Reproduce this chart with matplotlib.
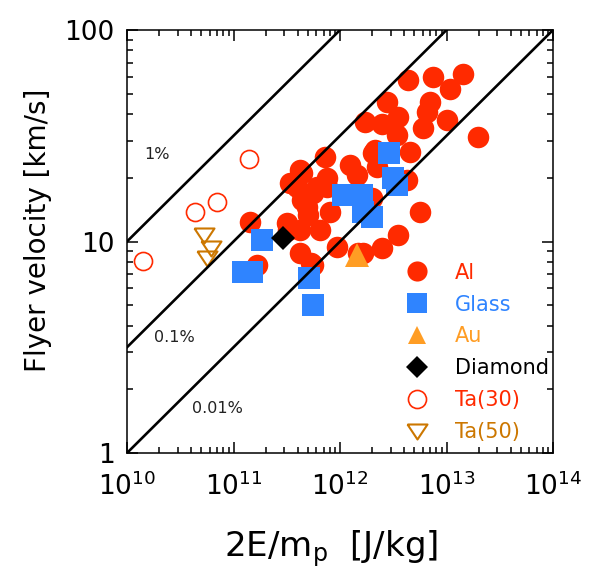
import numpy as np
import matplotlib
matplotlib.use("Agg")
import matplotlib.pyplot as plt
from matplotlib.ticker import LogLocator, FixedLocator, FixedFormatter, NullFormatter

plt.rcParams['font.family'] = ['DejaVu Sans']
plt.rcParams['mathtext.fontset'] = 'dejavusans'

# ---- data ----
al_x = [4.35e12, 7.5e12, 1.43e13, 1.08e13, 2.76e12, 7.0e12, 6.56e12, 3.5e12, 1.01e13,
        1.72e12, 2.5e12, 6.0e12, 3.43e12, 1.98e13, 2.13e12, 4.54e12, 7.2e11, 1.24e12,
        4.21e11, 2.23e12, 7.5e11, 2.04e12, 1.45e12, 4.39e11, 3.94e11, 5.6e11, 7.5e11,
        4.9e11, 8.1e11, 3.18e11, 4.21e11, 6.5e11, 1.43e11, 9.4e11, 4.21e11, 1.66e11,
        5.6e11, 1.64e12, 4.25e12, 1.79e12, 5.64e12, 3.5e12, 2.48e12, 1.48e12, 5.4e11,
        4.4e11, 6.1e11, 5.0e11, 3.25e11, 2.0e12, 4.5e11, 3.39e11]
al_v = [58, 60, 62, 52.6, 45.7, 45.7, 40.9, 38.8, 37.5,
        36.7, 36.0, 34.4, 31.9, 31.2, 27.1, 26.5, 25.1, 23.0,
        21.8, 22.5, 20.0, 26.2, 20.6, 21.1, 18.1, 17.0, 18.1,
        14.6, 13.8, 12.2, 11.3, 11.3, 12.4, 9.42, 8.83, 7.74,
        7.74, 8.83, 19.5, 15.7, 13.8, 10.7, 9.31, 8.83, 7.9,
        15.7, 18.1, 13.3, 11.3, 16.0, 17.0, 18.9]

glass_x = [2.88e12, 3.15e12, 3.43e12, 1.07e12, 1.61e12, 1.64e12, 2.0e12, 1.85e11,
           1.23e11, 1.49e11, 5.1e11, 5.6e11]
glass_v = [26.2, 20.0, 18.5, 16.6, 16.6, 13.8, 13.1, 10.2,
           7.18, 7.18, 6.72, 5.01]

au_x = [1.45e12]
au_v = [8.63]

diamond_x = [2.92e11]
diamond_v = [10.4]

ta30_x = [1.41e10, 4.35e10, 7.0e10, 1.4e11]
ta30_v = [8.09, 13.8, 15.4, 24.5]

ta50_x = [5.3e10, 6.1e10, 5.6e10]
ta50_v = [10.7, 9.31, 8.36]

efficiencies = [0.01, 0.001, 0.0001]
eff_labels = ["1%", "0.1%", "0.01%"]
eff_label_x = [1.9e10, 2.8e10, 7.0e10]
eff_label_y = [25.9, 3.5, 1.63]

x_ticks = [1e10, 1e11, 1e12, 1e13, 1e14]
x_ticklabels = [r"$10^{10}$", r"$10^{11}$", r"$10^{12}$", r"$10^{13}$", r"$10^{14}$"]
y_ticks = [1, 10, 100]
y_ticklabels = ["1", "10", "100"]

c_al = '#FF2A00'
c_glass = '#2F84FF'
c_au = '#FF9D24'
c_ta50 = '#CC7700'

# ---- figure ----
fig = plt.figure(figsize=(5.9, 5.82), dpi=100)
ax = fig.add_axes([127/590, 1-453/582, 426/590, 423/582])
ax.set_xscale('log')
ax.set_yscale('log')
ax.set_xlim(1e10, 1e14)
ax.set_ylim(1, 100)

ax.plot(al_x, al_v, 'o', color=c_al, ms=15.5, mew=0, label='Al', zorder=2)
ax.plot(glass_x, glass_v, 's', color=c_glass, ms=15.5, mew=0, label='Glass', zorder=2.2)
ax.plot(au_x, au_v, '^', color=c_au, ms=17, mew=0, label='Au', zorder=2.3)
ax.plot(diamond_x, diamond_v, 'D', color='black', ms=12.5, mew=0, label='Diamond', zorder=2.4)
ax.plot(ta30_x, ta30_v, 'o', mfc='none', mec=c_al, ms=13, mew=1.2, label='Ta(30)', zorder=2.5)
tri = [(-1, 0.7), (1, 0.7), (0, -0.8), (-1, 0.7)]
ax.plot(ta50_x, ta50_v, linestyle='none', marker=tri, mfc='none', mec=c_ta50, ms=14.4,
        mew=1.5, label='Ta(50)', zorder=2.5)

xx = np.array([1e10, 1e14])
for eta in efficiencies:
    ax.plot(xx, np.sqrt(eta * xx) / 1000.0, color='black', lw=1.9, zorder=3)
for lab, lx, ly in zip(eff_labels, eff_label_x, eff_label_y):
    ax.text(lx, ly, lab, fontsize=11.5, ha='center', va='center', color='#222222')

ax.xaxis.set_major_locator(FixedLocator(x_ticks))
ax.xaxis.set_major_formatter(FixedFormatter(x_ticklabels))
ax.yaxis.set_major_locator(FixedLocator(y_ticks))
ax.yaxis.set_major_formatter(FixedFormatter(y_ticklabels))
ax.xaxis.set_minor_locator(LogLocator(base=10, subs=np.arange(2, 10)))
ax.yaxis.set_minor_locator(LogLocator(base=10, subs=np.arange(2, 10)))
ax.xaxis.set_minor_formatter(NullFormatter())
ax.yaxis.set_minor_formatter(NullFormatter())

ax.tick_params(which='both', direction='in', top=True, right=True, width=1.1)
ax.tick_params(which='major', length=8, labelsize=19)
ax.tick_params(which='minor', length=4)
ax.tick_params(axis='x', which='major', pad=14)
ax.tick_params(axis='y', which='major', pad=9)
for s in ax.spines.values():
    s.set_linewidth(1.1)

ax.set_ylabel('Flyer velocity [km/s]', fontsize=20)
ax.yaxis.set_label_coords(-0.175, 0.527)
ax.set_xlabel(r'2E/m$_\mathrm{p}$  [J/kg]', fontsize=24.5)
ax.xaxis.set_label_coords(0.479, -0.178)

leg = ax.legend(loc='upper left', bbox_to_anchor=(0.651, 0.450), frameon=False,
                fontsize=15, numpoints=1, handlelength=1.2, handletextpad=1.23,
                labelspacing=0.57, borderpad=0, borderaxespad=0,
                labelcolor=[c_al, c_glass, c_au, 'black', c_al, c_ta50])
handles = leg.legend_handles
handles[0].set_markersize(14.5)
handles[1].set_markersize(14.5)
handles[2].set_markersize(13)
handles[3].set_markersize(11)

fig.savefig('out.png', dpi=100)
